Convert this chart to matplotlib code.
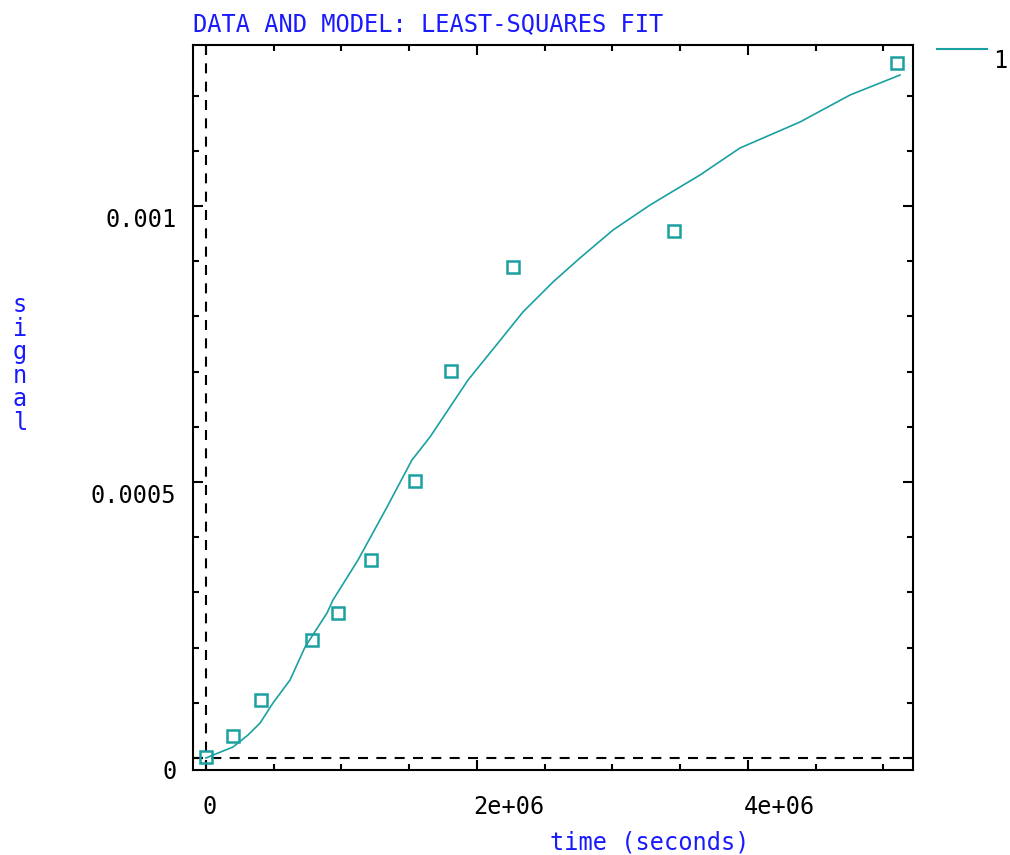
import matplotlib
matplotlib.use("Agg")
import matplotlib.pyplot as plt
from matplotlib.lines import Line2D
from matplotlib.transforms import ScaledTranslation
from matplotlib.ticker import MultipleLocator

# measured data (time in s, signal)
t_data = [0.0, 0.20e6, 0.406e6, 0.782e6, 0.974e6, 1.218e6, 1.542e6, 1.808e6, 2.266e6, 3.454e6, 5.10e6]
s_data = [0.0000018, 0.000040, 0.000105, 0.000214, 0.000263, 0.000359, 0.000502, 0.000701, 0.000889, 0.000955, 0.001259]

# least-squares model curve
t_fit = [0.0, 0.052e6, 0.199e6, 0.310e6, 0.399e6, 0.494e6, 0.620e6, 0.731e6, 0.893e6, 0.937e6,
         1.122e6, 1.336e6, 1.520e6, 1.653e6, 1.934e6, 2.155e6, 2.339e6, 2.561e6, 2.760e6,
         3.004e6, 3.277e6, 3.646e6, 3.941e6, 4.384e6, 4.753e6, 5.122e6]
s_fit = [0.0, 0.0000054, 0.0000199, 0.0000417, 0.0000634, 0.0000996, 0.0001413, 0.0002011, 0.0002627, 0.0002862,
         0.0003587, 0.0004547, 0.0005399, 0.0005815, 0.0006848, 0.0007518, 0.0008080, 0.0008623, 0.0009058,
         0.0009565, 0.0010018, 0.0010562, 0.0011051, 0.0011522, 0.0012011, 0.0012373]

xtick_vals = [0, 2e6, 4e6]
xtick_labels = ["0", "2e+06", "4e+06"]
ytick_vals = [0, 0.0005, 0.001]
ytick_labels = ["0", "0.0005", "0.001"]

teal = "#1aa0a0"
blue = "#1a1aff"
font = "DejaVu Sans Mono"
fs = 17

fig = plt.figure(figsize=(10.1, 8.55), dpi=100)
ax = fig.add_axes([193 / 1010, 85 / 855, 720 / 1010, 725 / 855])

# zero axes
ax.axhline(0, color="black", lw=1.5, dashes=(4.8, 4), zorder=1)
ax.axvline(0, color="black", lw=1.5, dashes=(4.8, 4), zorder=1)

ax.plot(t_fit, s_fit, color=teal, lw=1.2, zorder=3)
ax.plot(t_data, s_data, ls="none", marker="s", ms=8.5, mfc="none", mec=teal, mew=1.8, zorder=4)

ax.set_xlim(-0.096e6, 5.218e6)
ax.set_ylim(-0.0000217, 0.0012917)

ax.set_xticks(xtick_vals)
ax.set_xticklabels(xtick_labels, family=font, fontsize=fs, ha="left")
ax.set_yticks(ytick_vals)
ax.set_yticklabels(ytick_labels, family=font, fontsize=fs)
ax.xaxis.set_minor_locator(MultipleLocator(0.5e6))
ax.yaxis.set_minor_locator(MultipleLocator(0.0001))
ax.tick_params(which="both", direction="in", top=True, right=True, width=1.5)
ax.tick_params(which="major", length=7.5)
ax.tick_params(which="minor", length=4.5)
ax.tick_params(axis="x", pad=18)
ax.tick_params(axis="y", pad=12)

for lab in ax.get_yticklabels():
    lab.set_transform(lab.get_transform() + ScaledTranslation(0, -0.11, fig.dpi_scale_trans))
for lab in ax.get_xticklabels():
    lab.set_transform(lab.get_transform() + ScaledTranslation(-0.04, 0, fig.dpi_scale_trans))

for sp in ax.spines.values():
    sp.set_linewidth(1.5)

ax.set_xlabel("time (seconds)", family=font, fontsize=fs, color=blue)
ax.xaxis.set_label_coords((650 - 193) / 720, (770 - 842) / 725)
ax.xaxis.label.set_va("center")

fig.text(20 / 1010, 1 - 364 / 855, "\n".join("signal"), family=font, fontsize=fs,
         color=blue, ha="center", va="center", linespacing=0.97)
fig.text(193 / 1010, 1 - 24 / 855, "DATA AND MODEL: LEAST-SQUARES FIT", family=font,
         fontsize=fs, color=blue, ha="left", va="center")

# key, outside the plot box at top right
fig.add_artist(Line2D([937 / 1010, 987 / 1010], [1 - 49 / 855, 1 - 49 / 855], color=teal, lw=1.5))
fig.text(1000 / 1010, 1 - 61 / 855, "1", family=font, fontsize=fs, ha="center", va="center")

fig.savefig("out.png", dpi=100)
